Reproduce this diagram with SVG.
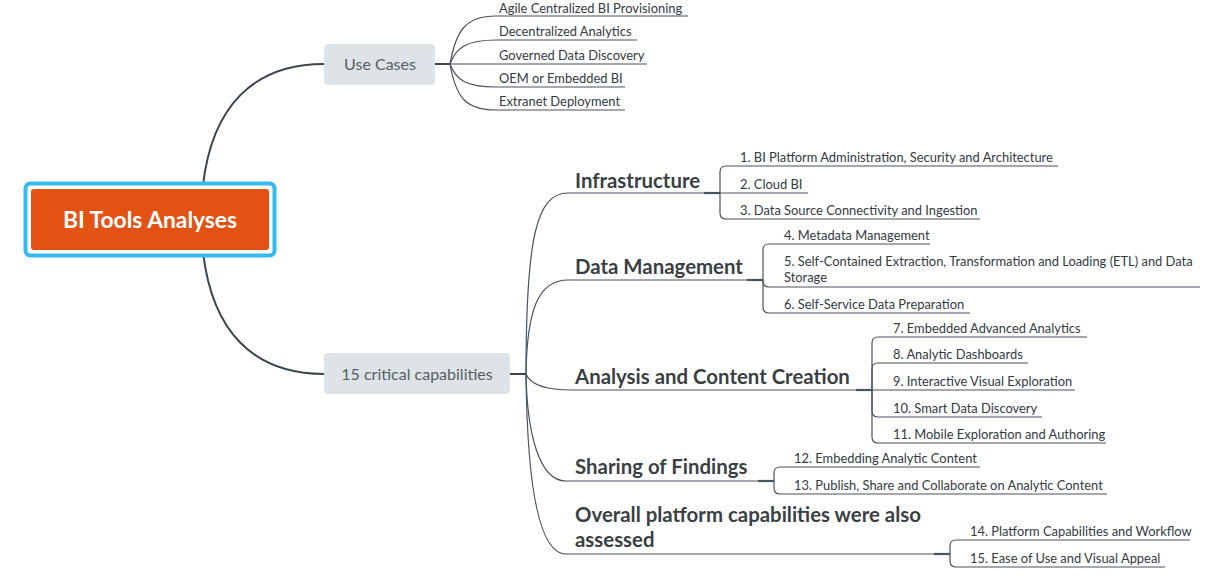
<svg xmlns="http://www.w3.org/2000/svg" width="1212" height="579" viewBox="0 0 1212 579">
<style>
.bg{fill:#ffffff}
.main{fill:none;stroke:#3d444b;stroke-width:2}
.con{fill:none;stroke:#4b535b;stroke-width:1.2}
.jn{fill:none;stroke:#4b535b;stroke-width:2.2}
.sub{fill:#dde3e6}
.subt{font-family:Lato,"Open Sans",sans-serif;font-size:16px;fill:#565e64;text-anchor:middle}
.topic{font-family:Lato,"Open Sans",sans-serif;font-size:20.4px;font-weight:700;fill:#3a3f44}
.leaf{font-family:Lato,"Open Sans",sans-serif;font-size:12.9px;fill:#333a40}
.roott{font-family:Lato,"Open Sans",sans-serif;font-size:22.8px;font-weight:700;fill:#ffffff;text-anchor:middle}
</style>
<rect class="bg" x="0" y="0" width="1212" height="579"/>
<g id="connectors">
  <path class="main" d="M203,185 C212,108 252,64 324,64"/>
  <path class="main" d="M203,252 C212,330 252,374 324,374"/>
  <path class="main" d="M435,64 L450,64"/>
  <path class="main" d="M510,374 L526,374"/>
  <path class="con" d="M450,64 C456,30 466,16 496,16 L688,16"/>
  <path class="con" d="M450,64 C456,48 466,40 496,40 L637,40"/>
  <path class="con" d="M450,64 L647,64"/>
  <path class="con" d="M450,64 C456,80 466,87 496,87 L625,87"/>
  <path class="con" d="M450,64 C456,98 466,110 496,110 L625,110"/>
  <path class="con" d="M526,374 C526,240 536,193 568,193 L720,193"/>
  <path class="con" d="M526,374 C527,310 538,280 568,280 L763,280"/>
  <path class="con" d="M526,374 C530,384 545,390 572,390 L872,390"/>
  <path class="con" d="M526,374 C527,430 538,481 566,481 L774,481"/>
  <path class="con" d="M526,374 C527,470 536,554 566,554 L950,554"/>
  <path class="jn" d="M704,193 L720,193"/>
  <path class="jn" d="M747,280 L763,280"/>
  <path class="jn" d="M856,390 L872,390"/>
  <path class="jn" d="M758,481 L774,481"/>
  <path class="jn" d="M934,554 L950,554"/>
  <path class="con" d="M720,193 L720,172 Q720,166 726,166 L1058,166"/>
  <path class="con" d="M720,193 L808,193"/>
  <path class="con" d="M720,193 L720,213 Q720,219 726,219 L980,219"/>
  <path class="con" d="M763,280 L763,250 Q763,244 769,244 L930,244"/>
  <path class="con" d="M763,280 L763,281 Q763,287 769,287 L1200,287"/>
  <path class="con" d="M763,280 L763,307 Q763,313 769,313 L970,313"/>
  <path class="con" d="M872,390 L872,343 Q872,337 878,337 L1087,337"/>
  <path class="con" d="M872,390 L872,369 Q872,363 878,363 L1028,363"/>
  <path class="con" d="M872,390 L1075,390"/>
  <path class="con" d="M872,390 L872,411 Q872,417 878,417 L1042,417"/>
  <path class="con" d="M872,390 L872,437 Q872,443 878,443 L1106,443"/>
  <path class="con" d="M774,481 L774,473 Q774,467 780,467 L980,467"/>
  <path class="con" d="M774,481 L774,488 Q774,494 780,494 L1107,494"/>
  <path class="con" d="M950,554 L950,546 Q950,540 956,540 L1190,540"/>
  <path class="con" d="M950,554 L950,561 Q950,567 956,567 L1165,567"/>
</g>
<g id="root">
  <rect x="25.5" y="183.5" width="249" height="72" rx="5" fill="#ffffff" stroke="#34b9f0" stroke-width="4"/>
  <rect x="31" y="189" width="238" height="61" rx="3" fill="#e35113"/>
  <text class="roott" x="150" y="228">BI Tools Analyses</text>
</g>
<g id="use-cases">
  <rect class="sub" x="324" y="44" width="111" height="41" rx="4"/>
  <text class="subt" x="380" y="70">Use Cases</text>
</g>
<g id="critical">
  <rect class="sub" x="324" y="353" width="186" height="41" rx="4"/>
  <text class="subt" x="417" y="379.5">15 critical capabilities</text>
</g>
<g id="uc-leaves">
  <text class="leaf" x="499" y="13">Agile Centralized BI Provisioning</text>
  <text class="leaf" x="499" y="36">Decentralized Analytics</text>
  <text class="leaf" x="499" y="60">Governed Data Discovery</text>
  <text class="leaf" x="499" y="83">OEM or Embedded BI</text>
  <text class="leaf" x="499" y="106">Extranet Deployment</text>
</g>
<g id="infrastructure">
  <text class="topic" x="575" y="188">Infrastructure</text>
  <text class="leaf" x="740" y="162">1. BI Platform Administration, Security and Architecture</text>
  <text class="leaf" x="740" y="189">2. Cloud BI</text>
  <text class="leaf" x="740" y="215">3. Data Source Connectivity and Ingestion</text>
</g>
<g id="data-management">
  <text class="topic" x="575" y="274">Data Management</text>
  <text class="leaf" x="784" y="240">4. Metadata Management</text>
  <text class="leaf" x="784" y="266">5. Self-Contained Extraction, Transformation and Loading (ETL) and Data</text>
  <text class="leaf" x="784" y="282">Storage</text>
  <text class="leaf" x="784" y="309">6. Self-Service Data Preparation</text>
</g>
<g id="analysis">
  <text class="topic" x="575" y="384">Analysis and Content Creation</text>
  <text class="leaf" x="893" y="333">7. Embedded Advanced Analytics</text>
  <text class="leaf" x="893" y="359">8. Analytic Dashboards</text>
  <text class="leaf" x="893" y="386">9. Interactive Visual Exploration</text>
  <text class="leaf" x="893" y="413">10. Smart Data Discovery</text>
  <text class="leaf" x="893" y="439">11. Mobile Exploration and Authoring</text>
</g>
<g id="sharing">
  <text class="topic" x="575" y="474">Sharing of Findings</text>
  <text class="leaf" x="794" y="463">12. Embedding Analytic Content</text>
  <text class="leaf" x="794" y="490">13. Publish, Share and Collaborate on Analytic Content</text>
</g>
<g id="overall">
  <text class="topic" x="575" y="522">Overall platform capabilities were also</text>
  <text class="topic" x="575" y="547">assessed</text>
  <text class="leaf" x="970" y="536">14. Platform Capabilities and Workflow</text>
  <text class="leaf" x="970" y="563">15. Ease of Use and Visual Appeal</text>
</g>
</svg>
